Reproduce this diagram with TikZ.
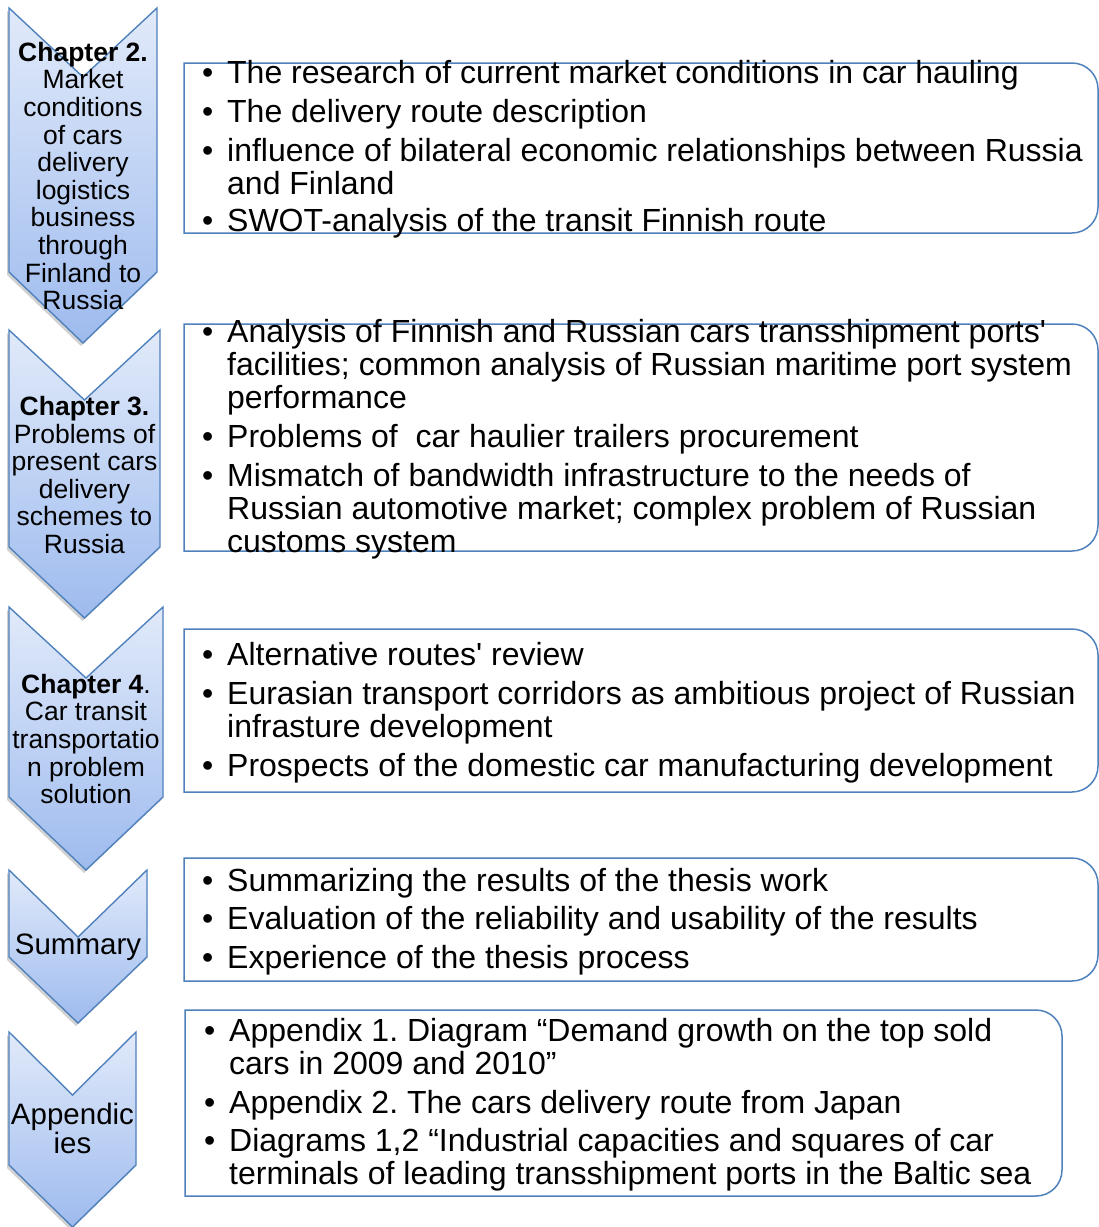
\documentclass[tikz,border=0pt]{standalone}
\usepackage{fontspec}
\newfontfamily\arial{Liberation Sans}
\usetikzlibrary{shadows}
\frenchspacing
\definecolor{edge}{HTML}{4F81BD}
\definecolor{ctop}{HTML}{E1EAFA}
\definecolor{cbot}{HTML}{9EBBEE}
\newcommand{\bul}{\makebox[25pt][l]{•}}
\newcommand{\ind}{\hspace*{25pt}}
\tikzset{
  chevshape/.style={draw=edge, line width=1.4pt, line join=miter, top color=ctop, bottom color=cbot,
    drop shadow={shadow xshift=-2pt, shadow yshift=-3pt, opacity=0.18, fill=black}},
  sidebox/.style={draw=edge, line width=1.5pt},
  chevtext/.style={font=\arial\fontsize{26.5}{27.6}\selectfont, align=center, inner sep=0pt},
  chevbig/.style={font=\arial\fontsize{29.5}{29.5}\selectfont, align=center, inner sep=0pt},
  boxtext/.style={font=\arial\fontsize{32}{33}\selectfont, anchor=base west, inner sep=0pt}
}
% #1 x0, #2 x1, #3 top, #4 notch, #5 side bottom, #6 tip
\newcommand{\chev}[6]{\path[chevshape] (#1,#3) -- ({(#1+#2)/2},#4) -- (#2,#3) -- (#2,#5) -- ({(#1+#2)/2},#6) -- (#1,#5) -- cycle;}
% #1 left, #2 top, #3 right, #4 bottom  (right corners rounded, r=26)
\newcommand{\rbox}[4]{\draw[sidebox] (#1,#2) -- ({#3-26},#2) .. controls ({#3-11.6},#2) and (#3,{#2+11.6}) .. (#3,{#2+26})
  -- (#3,{#4-26}) .. controls (#3,{#4-11.6}) and ({#3-11.6},#4) .. ({#3-26},#4) -- (#1,#4) -- cycle;}
\begin{document}
\begin{tikzpicture}[x=1pt,y=-1pt]
\useasboundingbox[fill=white] (0,0) rectangle (1099,1227);

% chevrons
\chev{9}{157}{8}{77}{272}{343}
\chev{9}{160}{330}{400}{547}{618}
\chev{9}{163}{607}{678}{797}{870}
\chev{9}{147}{870}{937}{957}{1023}
\chev{9}{136}{1032}{1095}{1165}{1227}

% boxes
\rbox{184}{63}{1098}{233}
\rbox{184}{324}{1098}{551}
\rbox{184}{629}{1098}{792}
\rbox{184}{858}{1098}{981}
\rbox{185}{1010}{1062}{1196}

% chevron labels
\node[chevtext] (t1) at (83,176) {\textbf{Chapter 2.}\\Market\\conditions\\of cars\\delivery\\logistics\\business\\through\\Finland to\\Russia};
\node[chevtext] (t2) at (84.5,475) {\textbf{Chapter 3.}\\Problems of\\present cars\\delivery\\schemes to\\Russia};
\node[chevtext] (t3) at (86,739) {\textbf{Chapter 4}.\\Car transit\\transportatio\\n problem\\solution};
\node[chevbig] (t4) at (78,947.5) {Summary};
\node[chevbig] (t5) at (72.5,1128.5) {Appendic\\ies};

% box texts
\node[boxtext] (d1) at (202,83) {\begin{tabular}[t]{@{}l@{}}
\bul The research of current market conditions in car hauling\\[6pt]
\bul The delivery route description\\[6pt]
\bul influence of bilateral economic relationships between Russia\\
\ind and Finland\\[4pt]
\bul SWOT-analysis of the transit Finnish route
\end{tabular}};

\node[boxtext] (d2) at (202,342) {\begin{tabular}[t]{@{}l@{}}
\bul Analysis of Finnish and Russian cars transshipment ports'\\
\ind facilities; common analysis of Russian maritime port system\\
\ind performance\\[6pt]
\bul Problems of \ car haulier trailers procurement\\[6pt]
\bul Mismatch of bandwidth infrastructure to the needs of\\
\ind Russian automotive market; complex problem of Russian\\
\ind customs system
\end{tabular}};

\node[boxtext] (d3) at (202,665) {\begin{tabular}[t]{@{}l@{}}
\bul Alternative routes' review\\[6pt]
\bul Eurasian transport corridors as ambitious project of Russian\\
\ind infrasture development\\[6pt]
\bul Prospects of the domestic car manufacturing development
\end{tabular}};

\node[boxtext] (d4) at (202,891) {\begin{tabular}[t]{@{}l@{}}
\bul Summarizing the results of the thesis work\\[5pt]
\bul Evaluation of the reliability and usability of the results\\[6pt]
\bul Experience of the thesis process
\end{tabular}};

\node[boxtext] (d5) at (204,1041) {\begin{tabular}[t]{@{}l@{}}
\bul Appendix 1. Diagram “Demand growth on the top sold\\
\ind cars in 2009 and 2010”\\[6pt]
\bul Appendix 2. The cars delivery route from Japan\\[5pt]
\bul Diagrams 1,2 “Industrial capacities and squares of car\\
\ind terminals of leading transshipment ports in the Baltic sea
\end{tabular}};
\end{tikzpicture}
\end{document}
